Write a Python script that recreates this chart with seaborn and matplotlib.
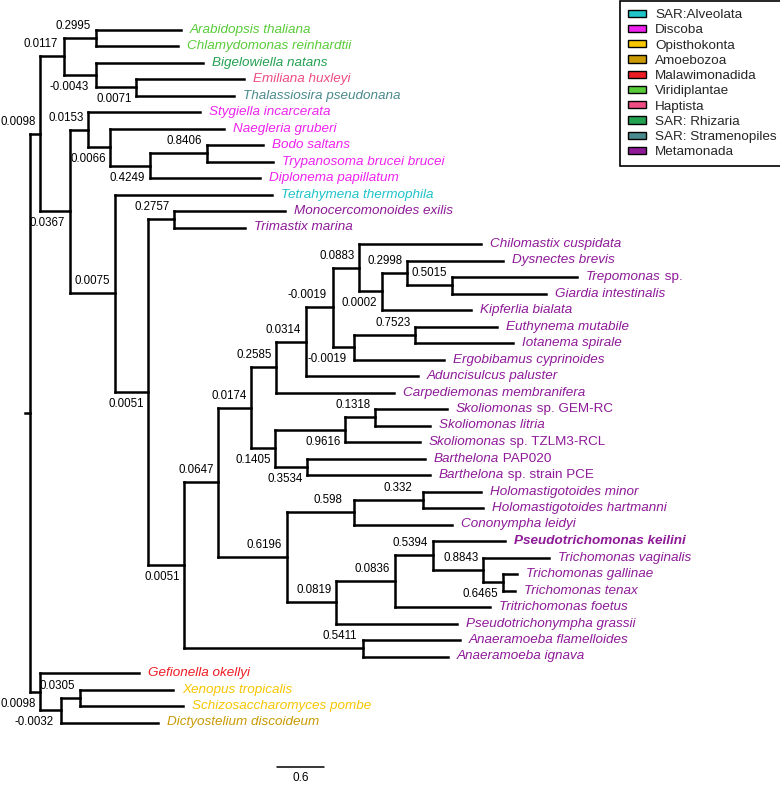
import numpy as np
import pandas as pd
import matplotlib
matplotlib.use("Agg")
import matplotlib.pyplot as plt
import seaborn as sns
from matplotlib.patches import Patch

# ---------------- data ----------------
# leaves, top to bottom: italic part, roman suffix, group, tip depth (tree units)
leaf_italic = [
    "Arabidopsis thaliana", "Chlamydomonas reinhardtii", "Bigelowiella natans",
    "Emiliana huxleyi", "Thalassiosira pseudonana", "Stygiella incarcerata",
    "Naegleria gruberi", "Bodo saltans", "Trypanosoma brucei brucei",
    "Diplonema papillatum", "Tetrahymena thermophila", "Monocercomonoides exilis",
    "Trimastix marina", "Chilomastix cuspidata", "Dysnectes brevis",
    "Trepomonas", "Giardia intestinalis", "Kipferlia bialata",
    "Euthynema mutabile", "Iotanema spirale", "Ergobibamus cyprinoides",
    "Aduncisulcus paluster", "Carpediemonas membranifera", "Skoliomonas",
    "Skoliomonas litria", "Skoliomonas", "Barthelona", "Barthelona",
    "Holomastigotoides minor", "Holomastigotoides hartmanni", "Cononympha leidyi",
    "Pseudotrichomonas keilini", "Trichomonas vaginalis", "Trichomonas gallinae",
    "Trichomonas tenax", "Tritrichomonas foetus", "Pseudotrichonympha grassii",
    "Anaeramoeba flamelloides", "Anaeramoeba ignava", "Gefionella okellyi",
    "Xenopus tropicalis", "Schizosaccharomyces pombe", "Dictyostelium discoideum",
]
leaf_roman = [""] * 15 + [" sp."] + [""] * 7 + [" sp. GEM-RC", "", " sp. TZLM3-RCL",
              " PAP020", " sp. strain PCE"] + [""] * 15
leaf_group = (["Viridiplantae"] * 2 + ["SAR: Rhizaria", "Haptista", "SAR: Stramenopiles"]
              + ["Discoba"] * 5 + ["SAR:Alveolata"] + ["Metamonada"] * 28
              + ["Malawimonadida", "Opisthokonta", "Opisthokonta", "Amoebozoa"])
leaf_depth = [
    1.916, 1.878, 2.195, 2.715, 2.588, 2.157, 2.461, 2.956, 3.083, 2.918,
    3.070, 3.235, 2.727, 5.721, 6.000, 6.939, 6.546, 5.595, 5.924, 6.127,
    5.252, 4.922, 4.618, 5.290, 5.074, 4.947, 5.011, 5.074, 5.721, 5.747,
    5.353, 6.026, 6.584, 6.178, 6.153, 5.836, 5.417, 5.455, 5.303, 1.383,
    1.814, 1.941, 1.624,
]
highlight_leaf = "Pseudotrichomonas keilini"

# internal nodes (children: int = leaf index, str = internal node)
node_id = ["root", "A", "A1", "n_arab", "n_bige", "n_emil", "A2", "n_styg", "n_naeg",
           "n_dipl", "n_bodo", "n_tetr", "n_u51", "n_mono", "n_l51", "n_0647", "n_0174",
           "n_2585", "n_0314", "n_m19a", "n_0883", "n_0002", "n_2998", "n_5015",
           "n_m19b", "n_7523", "n_1405", "n_9616", "n_1318", "n_3534", "n_6196",
           "n_598", "n_332", "n_0819", "n_0836", "n_5394", "n_8843", "n_6465",
           "n_5411", "B", "n_m32", "n_0305"]
node_children = [("A", "B"), ("A1", "A2"), ("n_arab", "n_bige"), (0, 1), (2, "n_emil"),
                 (3, 4), ("n_styg", "n_tetr"), (5, "n_naeg"), (6, "n_dipl"),
                 ("n_bodo", 9), (7, 8), (10, "n_u51"), ("n_mono", "n_l51"), (11, 12),
                 ("n_0647", "n_5411"), ("n_0174", "n_6196"), ("n_2585", "n_1405"),
                 ("n_0314", 22), ("n_m19a", 21), ("n_0883", "n_m19b"), (13, "n_0002"),
                 ("n_2998", 17), (14, "n_5015"), (15, 16), ("n_7523", 20), (18, 19),
                 ("n_9616", "n_3534"), ("n_1318", 25), (23, 24), (26, 27),
                 ("n_598", "n_0819"), ("n_332", 30), (28, 29), ("n_0836", 36),
                 ("n_5394", 35), (31, "n_8843"), (32, "n_6465"), (33, 34), (37, 38),
                 (39, "n_m32"), ("n_0305", 42), (40, 41)]
node_depth = [0.0, 0.127, 0.431, 0.837, 0.837, 1.345, 0.507, 0.736, 1.015, 1.522, 2.245,
              1.078, 1.497, 1.827, 1.954, 2.385, 2.804, 3.121, 3.501, 3.844, 4.174,
              4.465, 4.783, 5.353, 4.110, 4.884, 3.108, 3.996, 4.377, 3.514, 3.260,
              4.110, 4.986, 3.882, 4.630, 5.112, 5.747, 6.000, 4.224, 0.127, 0.393,
              0.634]
node_label = ["", "0.0098", "0.0117", "0.2995", "-0.0043", "0.0071", "0.0367", "0.0153",
              "0.0066", "0.4249", "0.8406", "0.0075", "0.0051", "0.2757", "0.0051",
              "0.0647", "0.0174", "0.2585", "0.0314", "-0.0019", "0.0883", "0.0002",
              "0.2998", "0.5015", "-0.0019", "0.7523", "0.1405", "0.9616", "0.1318",
              "0.3534", "0.6196", "0.598", "0.332", "0.0819", "0.0836", "0.5394",
              "0.8843", "0.6465", "0.5411", "0.0098", "-0.0032", "0.0305"]
label_below = {"A2", "n_bige", "n_emil", "n_naeg", "n_dipl", "n_u51", "n_l51", "n_m19b",
               "n_0002", "n_1405", "n_9616", "n_3534", "n_6465", "B", "n_m32"}

groups = ["SAR:Alveolata", "Discoba", "Opisthokonta", "Amoebozoa", "Malawimonadida",
          "Viridiplantae", "Haptista", "SAR: Rhizaria", "SAR: Stramenopiles", "Metamonada"]
group_colors = ["#1FC3C8", "#EE22EE", "#F7C600", "#C99A04", "#EE1C24",
                "#58CC38", "#EE4C82", "#24A150", "#4A8A8C", "#8E1A98"]
scale_len = 0.6

# ---------------- layout (pixels -> data) ----------------
W, H = 780, 790
PX_U = 78.83          # pixels per tree unit
X0 = 30.0             # root x in px
Y0, DY = 29.5, 16.5   # first leaf y and leaf pitch in px
def px_x(p):
    return p / PX_U
def px_y(p):
    return p / DY

sns.set_theme(style="white")
plt.rcParams["font.family"] = ["Liberation Sans", "DejaVu Sans"]

fig = plt.figure(figsize=(W / 100, H / 100), dpi=100)
ax = fig.add_axes([0, 0, 1, 1])
ax.set_xlim(-X0 / PX_U, (W - X0) / PX_U)
ax.set_ylim((H - Y0) / DY, -Y0 / DY)
ax.axis("off")

# ---------------- tree geometry ----------------
depth = {n: d for n, d in zip(node_id, node_depth)}
for i, d in enumerate(leaf_depth):
    depth[i] = d
children = dict(zip(node_id, node_children))
parent = {}
for n, ch in children.items():
    for c in ch:
        parent[c] = n

ypos = {i: float(i) for i in range(len(leaf_italic))}
def get_y(n):
    if n in ypos:
        return ypos[n]
    ys = [get_y(c) for c in children[n]]
    ypos[n] = (ys[0] + ys[-1]) / 2
    return ypos[n]
get_y("root")

rows = []
seg = 0
for n in list(children.keys()) + list(range(len(leaf_italic))):
    if n != "root":
        p = parent[n]
        rows += [(depth[p], ypos[n], seg), (depth[n], ypos[n], seg)]
        seg += 1
    if n in children:
        ch = children[n]
        rows += [(depth[n], ypos[ch[0]], seg), (depth[n], ypos[ch[-1]], seg)]
        seg += 1
rows += [(-px_x(5), ypos["root"], seg), (0.0, ypos["root"], seg)]
seg_df = pd.DataFrame(rows, columns=["x", "y", "seg"])

sns.lineplot(data=seg_df, x="x", y="y", units="seg", estimator=None, sort=False,
             color="black", linewidth=1.8, legend=False, ax=ax,
             solid_capstyle="projecting")
ax.set_xlabel("")
ax.set_ylabel("")

# leaf labels
gcol = dict(zip(groups, group_colors))
for i, (it, ro, g) in enumerate(zip(leaf_italic, leaf_roman, leaf_group)):
    bold = it == highlight_leaf
    t = ax.text(depth[i] + px_x(9), ypos[i], it, style="italic",
                fontweight="bold" if bold else "normal", fontsize=9.7,
                color=gcol[g], ha="left", va="center")
    if ro:
        ax.annotate(ro, xy=(1, 0), xycoords=t, ha="left", va="bottom",
                    fontsize=9.7, color=gcol[g])

# node labels
for n, lab in zip(node_id, node_label):
    if not lab:
        continue
    off = 46 if lab.startswith("-") else 40
    dy = 12 if n in label_below else -12
    ax.text(depth[n] - px_x(off), ypos[n] + px_y(dy), lab, fontsize=8.3,
            color="black", ha="left", va="center")

# scale bar
sx = px_x(276.7 - X0)
sy = px_y(767 - Y0)
ax.plot([sx, sx + scale_len], [sy, sy], color="black", linewidth=1.1)
ax.text(sx + scale_len / 2, px_y(778 - Y0), f"{scale_len}", fontsize=8.5,
        ha="center", va="center", color="black")

# legend
handles = [Patch(facecolor=c, edgecolor="black", linewidth=1.0) for c in group_colors]
leg = ax.legend(handles, groups, loc="upper right", bbox_to_anchor=(1.0065, 0.9987),
                bbox_transform=fig.transFigure, borderaxespad=0, frameon=True,
                fancybox=False, edgecolor="black", framealpha=1, fontsize=9.7,
                labelspacing=0.24, handlelength=1.3, handleheight=0.45,
                handletextpad=0.72, borderpad=0.6)
leg.get_frame().set_linewidth(1.2)

fig.savefig("out.png", dpi=100)
